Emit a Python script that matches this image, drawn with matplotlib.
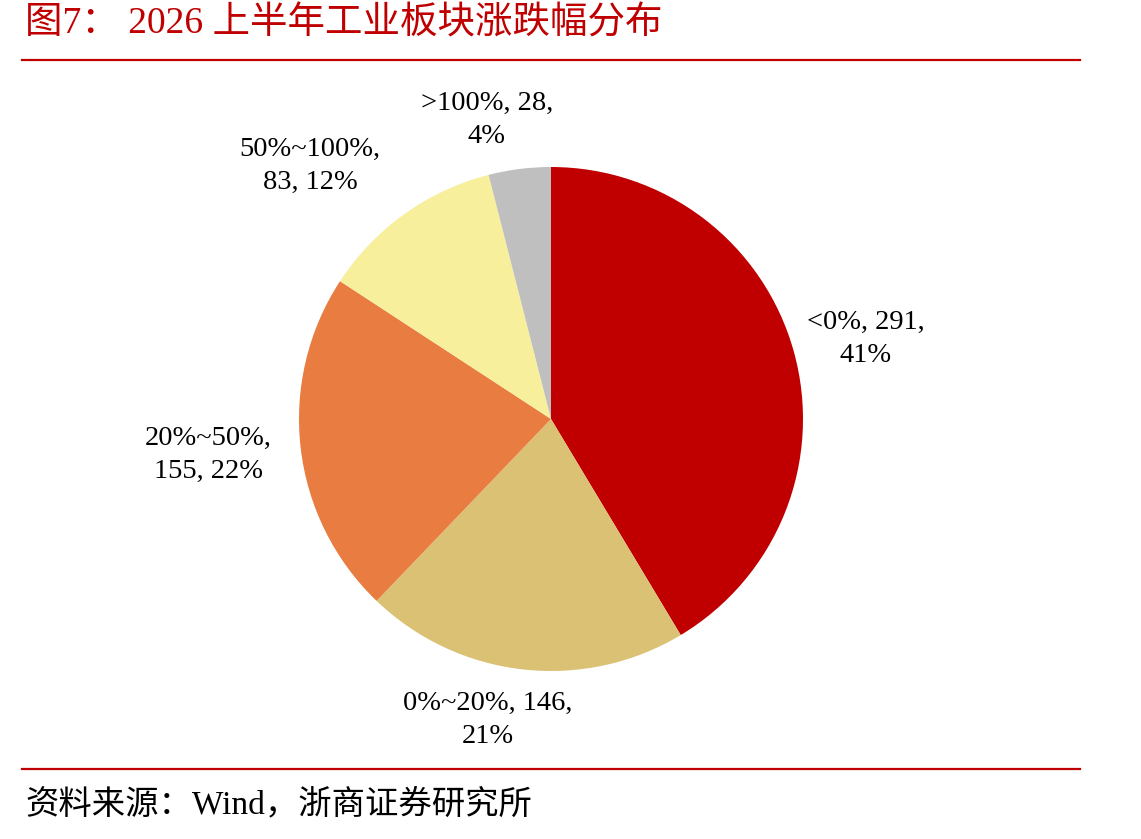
import matplotlib
matplotlib.use("Agg")
import matplotlib.pyplot as plt
from matplotlib.lines import Line2D

plt.rcParams['font.family'] = ['Liberation Serif', 'Noto Sans CJK SC', 'DejaVu Sans']

categories = ['<0%', '0%~20%', '20%~50%', '50%~100%', '>100%']
counts = [291, 146, 155, 83, 28]
colors = ['#C00000', '#DBC174', '#E97C40', '#F8EF9C', '#BFBFBF']
label_texts = ['<0%, 291,\n41%', '0%~20%, 146,\n21%', '20%~50%,\n155, 22%',
               '50%~100%,\n83, 12%', '>100%, 28,\n4%']
# label centres in pixel coords (x, y from top)
label_pos = [(866, 339), (488, 720), (208, 455), (310, 166), (487, 120)]

W, H = 1141, 839
fig = plt.figure(figsize=(W / 100, H / 100), dpi=100)

cx, cy, r = 551, 419, 252
ax = fig.add_axes([(cx - r) / W, (H - cy - r) / H, 2 * r / W, 2 * r / H])
ax.pie(counts, colors=colors, startangle=90, counterclock=False, radius=1,
       wedgeprops=dict(linewidth=0))
ax.set_xlim(-1, 1)
ax.set_ylim(-1, 1)
ax.set_aspect('equal')
ax.axis('off')

for txt, (px, py) in zip(label_texts, label_pos):
    fig.text(px / W, 1 - py / H, txt, ha='center', va='center',
             fontsize=20.5, color='black', linespacing=1.4)

red = '#C00000'
fig.text(25 / W, 1 - 24 / H, '图7： 2026 上半年工业板块涨跌幅分布', ha='left', va='center',
         fontsize=27, color=red)
fig.add_artist(Line2D([22 / W, 1080 / W], [1 - 60 / H, 1 - 60 / H], color=red, lw=1.6))
fig.add_artist(Line2D([22 / W, 1080 / W], [1 - 769 / H, 1 - 769 / H], color=red, lw=1.6))
fig.text(25 / W, 1 - 805 / H, '资料来源：Wind，浙商证券研究所', ha='left', va='center',
         fontsize=24, color='black')

fig.savefig('out.png', dpi=100)
